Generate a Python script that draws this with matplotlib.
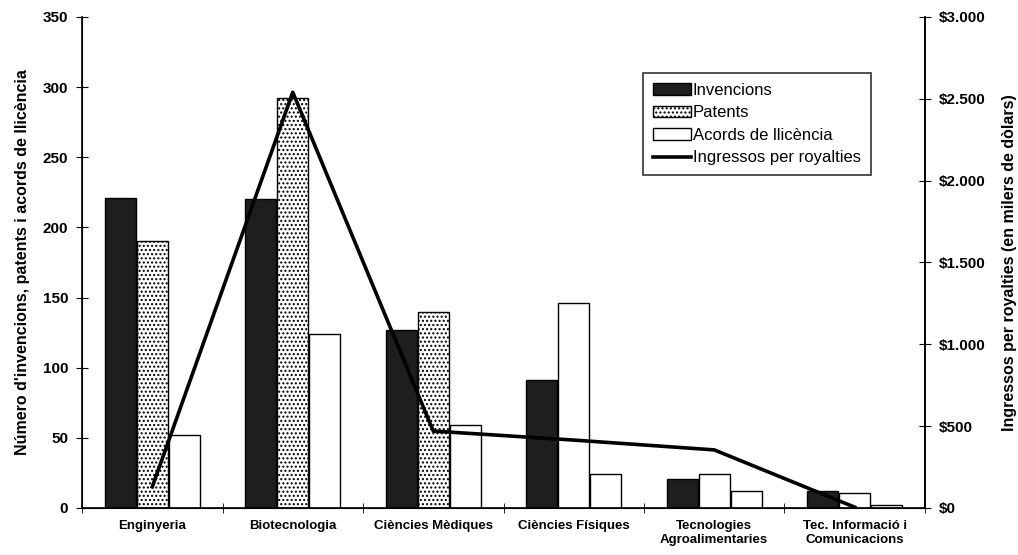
import numpy as np
import matplotlib
matplotlib.use('Agg')
import matplotlib.pyplot as plt
from matplotlib.ticker import FuncFormatter

plt.rcParams['font.family'] = ['Liberation Sans', 'DejaVu Sans']
plt.rcParams['hatch.linewidth'] = 1.0

categories = ['Enginyeria', 'Biotecnologia', 'Ciències Mèdiques', 'Ciències Físiques',
              'Tecnologies\nAgroalimentaries', 'Tec. Informació i\nComunicacions']
invencions = [221, 220, 127, 91, 21, 12]
patents = [190, 292, 140, 146, 24, 11]
acords = [52, 124, 59, 24, 12, 2]
royalties = [130, 2540, 470, 415, 355, 5]

# the scan shows the patents pattern only on the first three groups
patents_hatch = ['....', '....', '....', None, None, None]


def money(v, pos):
    return '${:,.0f}'.format(v).replace(',', '.')


def main():
    fig = plt.figure(figsize=(10.18, 5.55), dpi=100)
    ax = fig.add_axes([0.0806, 0.0847, 0.8280, 0.8847])
    x = np.arange(len(categories))
    w = 0.22
    off = 0.228

    ax.bar(x - off, invencions, w, color='#1e1e1e', edgecolor='black',
           linewidth=1, label='Invencions', zorder=2)
    pb = ax.bar(x, patents, w, color='white', edgecolor='black',
                linewidth=1, label='Patents', zorder=2)
    for rect, h in zip(pb, patents_hatch):
        if h:
            rect.set_hatch(h)
    ax.bar(x + off, acords, w, color='white', edgecolor='black',
           linewidth=1, label='Acords de llicència', zorder=2)

    ax.set_xlim(-0.5, len(categories) - 0.5)
    ax.set_ylim(0, 350)
    ax.set_yticks(range(0, 351, 50))
    ax.set_xticks(x)
    ax.set_xticklabels(categories, fontsize=9.5, fontweight='bold')
    ax.set_xticks(np.arange(-0.5, len(categories), 1), minor=True)
    ax.tick_params(axis='x', which='major', length=0, pad=9)
    ax.tick_params(axis='x', which='minor', direction='inout', length=7)
    ax.tick_params(axis='y', direction='inout', length=8, labelsize=11, pad=6)
    for t in ax.get_yticklabels():
        t.set_fontweight('bold')
    ax.set_ylabel("Número d'invencions, patents i acords de llicència",
                  fontsize=11.5, fontweight='bold', labelpad=9)
    ax.spines['top'].set_visible(False)
    for s in ('left', 'bottom', 'right'):
        ax.spines[s].set_linewidth(1.2)

    ax2 = ax.twinx()
    ax2.plot(x, royalties, color='black', linewidth=2.6,
             label='Ingressos per royalties', zorder=3)
    ax2.set_ylim(0, 3000)
    ax2.set_yticks(range(0, 3001, 500))
    ax2.yaxis.set_major_formatter(FuncFormatter(money))
    ax2.tick_params(axis='y', direction='inout', length=8, labelsize=11, pad=6)
    for t in ax2.get_yticklabels():
        t.set_fontweight('bold')
    ax2.set_ylabel('Ingressos per royalties (en milers de dòlars)',
                   fontsize=11.5, fontweight='bold', labelpad=12)
    ax2.spines['top'].set_visible(False)
    ax2.spines['right'].set_linewidth(1.2)

    h1, l1 = ax.get_legend_handles_labels()
    h2, l2 = ax2.get_legend_handles_labels()
    leg = ax2.legend(h1 + h2, l1 + l2, loc='upper left',
                     bbox_to_anchor=(0.665, 0.886), fontsize=12,
                     frameon=True, fancybox=False, edgecolor='black',
                     handlelength=2.3, handleheight=0.7, handletextpad=0.1,
                     labelspacing=0.45, borderpad=0.6, borderaxespad=0)
    leg.get_frame().set_linewidth(1.2)

    fig.savefig('out.png', dpi=100)


if __name__ == '__main__':
    main()
